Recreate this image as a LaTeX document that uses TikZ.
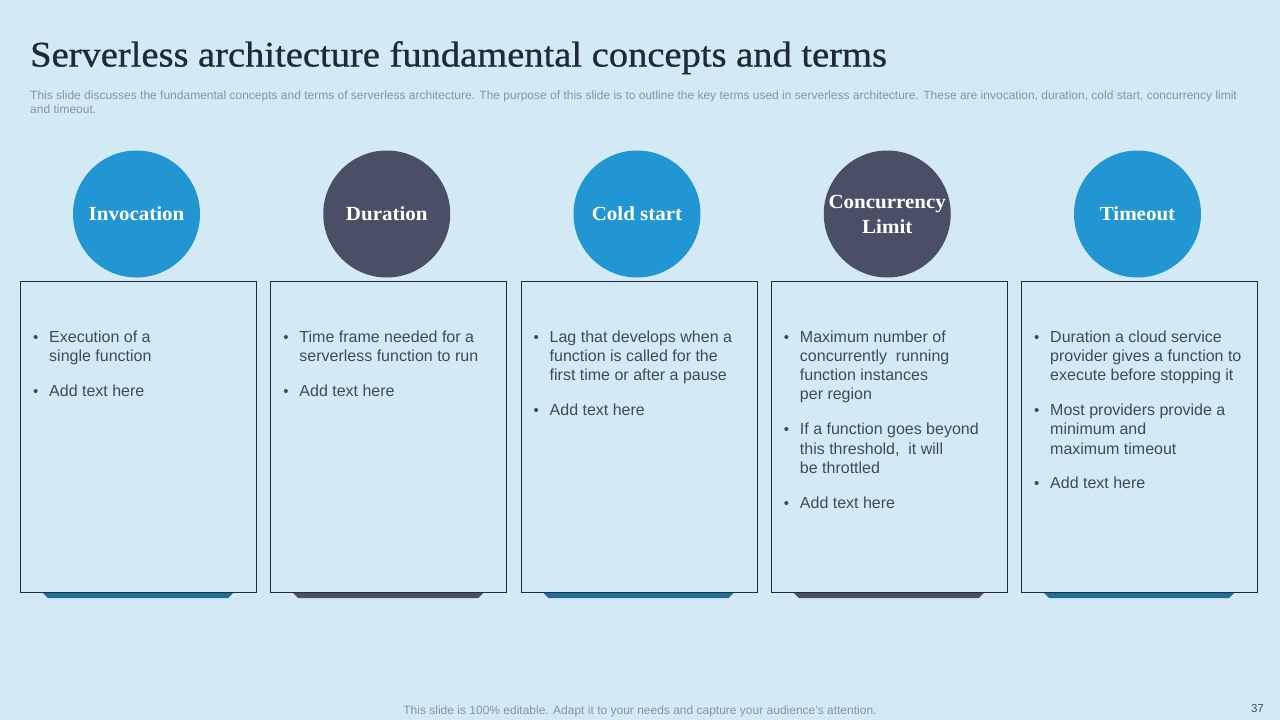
\documentclass[tikz,border=0pt]{standalone}
\usepackage{fontspec}
\setmainfont{Liberation Sans}
\newfontfamily\titlefont[FakeStretch=1.07, FakeBold=0.8]{Liberation Serif}
\newfontfamily\labelfont[FakeStretch=1.05]{Liberation Serif}
\definecolor{bgc}{HTML}{D3EAF6}
\definecolor{bluec}{HTML}{2196D3}
\definecolor{darkc}{HTML}{4B4F65}
\definecolor{tabblue}{HTML}{1F6F98}
\definecolor{titlec}{HTML}{1F2A36}
\definecolor{subc}{HTML}{8A939C}
\definecolor{bodyc}{HTML}{3F4A56}
\definecolor{borderc}{HTML}{1F2D3D}
\newcommand\bitem[1]{\par\noindent\hangindent=16pt\hangafter=1\makebox[16pt][l]{\fontsize{15}{12}\selectfont\textbullet}#1}
\tikzset{
  circlebox/.style={circle, minimum size=127pt, inner sep=0pt, text=white, align=center,
    font=\labelfont\bfseries\fontsize{20}{25}\selectfont},
  cardbox/.style={draw=borderc, line width=1.2pt, fill=bgc, anchor=north west, minimum width=236pt, minimum height=311pt, inner sep=0pt},
  bodytext/.style={anchor=base west, inner sep=0pt, text=bodyc},
}
\newcommand\cardtext[1]{\begin{minipage}[t]{215pt}\fontsize{16}{19.3}\selectfont\setlength{\parskip}{15.5pt}#1\end{minipage}}
\begin{document}
\begin{tikzpicture}[x=1pt,y=-1pt]
\fill[bgc] (0,0) rectangle (1280,720);
\useasboundingbox (0,0) rectangle (1280,720);
\node[anchor=base west, inner sep=0pt, text=titlec, font=\titlefont\fontsize{36}{42}\selectfont] (title) at (30,66.5) {Serverless architecture fundamental concepts and terms};
\node[anchor=base west, inner sep=0pt, text=subc, align=left, font=\fontsize{12}{14}\selectfont] (sub) at (30,113) {This slide discusses the fundamental concepts and terms of serverless architecture. The purpose of this slide is to outline the key terms used in serverless architecture. These are invocation, duration, cold start, concurrency limit\\and timeout.};
\foreach \i/\L/\cc/\tc/\lab in {1/20/bluec/tabblue/Invocation, 2/270.25/darkc/darkc/Duration, 3/520.5/bluec/tabblue/Cold start, 4/770.75/darkc/darkc/{Concurrency\\Limit}, 5/1021/bluec/tabblue/Timeout}{
  \fill[\tc] (\L+20,590) -- (\L+216,590) -- (\L+208,598) -- (\L+28,598) -- cycle;
  \node[cardbox] (card\i) at (\L,281) {};
  \node[circlebox, fill=\cc] (circ\i) at (\L+116.5,214) {\lab};
}
\node[bodytext] (t1) at (33,342) {\cardtext{\bitem{Execution of a\\single function}\bitem{Add text here}}};
\node[bodytext] (t2) at (283.25,342) {\cardtext{\bitem{Time frame needed for a\\serverless function to run}\bitem{Add text here}}};
\node[bodytext] (t3) at (533.5,342) {\cardtext{\bitem{Lag that develops when a\\function is called for the\\first time or after a pause}\bitem{Add text here}}};
\node[bodytext] (t4) at (783.75,342) {\cardtext{\bitem{Maximum number of\\concurrently~ running\\function instances\\per region}\bitem{If a function goes beyond\\this threshold,~ it will\\be throttled}\bitem{Add text here}}};
\node[bodytext] (t5) at (1034,342) {\cardtext{\bitem{Duration a cloud service\\provider gives a function to\\execute before stopping it}\bitem{Most providers provide a\\minimum and\\maximum timeout}\bitem{Add text here}}};
\node[anchor=base, inner sep=0pt, text=subc, font=\fontsize{12}{14}\selectfont] (foot) at (640,714) {This slide is 100\% editable. Adapt it to your needs and capture your audience's attention.};
\node[anchor=base east, inner sep=0pt, text=bodyc, font=\fontsize{11.5}{13}\selectfont] (num) at (1264,712) {37};
\end{tikzpicture}
\end{document}
